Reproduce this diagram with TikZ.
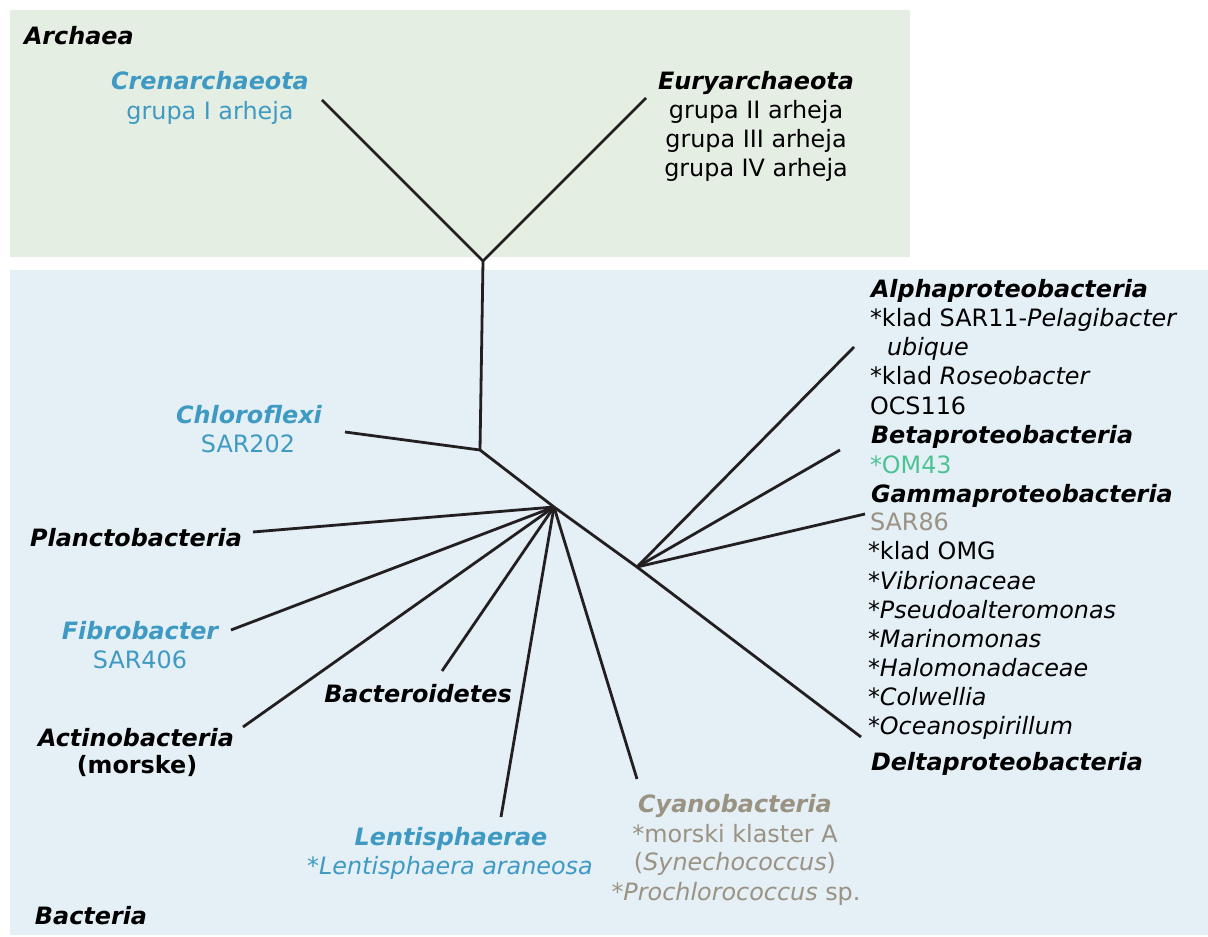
\documentclass[tikz,border=0pt]{standalone}
\usepackage{fontspec}
\setmainfont{DejaVu Sans}
\definecolor{archbg}{HTML}{E4EEE3}
\definecolor{bactbg}{HTML}{E4EFF6}
\definecolor{cblue}{HTML}{3F9AC3}
\definecolor{ctan}{HTML}{9A9282}
\definecolor{cgreen}{HTML}{4CC393}
\definecolor{cline}{HTML}{231F20}
\begin{document}
\begin{tikzpicture}[x=0.75pt,y=-0.75pt,
  every node/.style={inner sep=0pt,outer sep=0pt,font=\fontsize{17.9}{22}\selectfont},
  hdr/.style={font=\fontsize{17.9}{22}\selectfont\bfseries\itshape},
  lw/.style={anchor=base west,yshift=-1.6pt},
  ctr/.style={anchor=base,yshift=-1.6pt},
  branch/.style={draw=cline,line width=2.1pt,line join=round}]
\useasboundingbox (0,0) rectangle (1208,937);
\fill[white] (0,0) rectangle (1208,937);
% domain panels
\fill[archbg] (10,10) rectangle (910,257);
\fill[bactbg] (10,270) rectangle (1208,935);

% tree nodes
\coordinate (A) at (483,261);
\coordinate (cren) at (322,100);
\coordinate (eury) at (646,98);
\coordinate (B) at (480,450);
\coordinate (chl) at (345,432);
\coordinate (C) at (554,507);
\coordinate (plan) at (253,532);
\coordinate (fib) at (231,630);
\coordinate (act) at (243,727);
\coordinate (bcd) at (442,671);
\coordinate (lent) at (501,817);
\coordinate (cyan) at (637,779);
\coordinate (D) at (637,567);
\coordinate (delta) at (861,737);
\coordinate (alpha) at (854,347);
\coordinate (beta) at (840,450);
\coordinate (gamma) at (865,514);

\draw[branch] (cren) -- (A) -- (eury);
\draw[branch] (A) -- (B);
\draw[branch] (chl) -- (B) -- (C);
\draw[branch] (C) -- (plan);
\draw[branch] (C) -- (fib);
\draw[branch] (C) -- (act);
\draw[branch] (C) -- (bcd);
\draw[branch] (C) -- (lent);
\draw[branch] (C) -- (cyan);
\draw[branch] (C) -- (D) -- (delta);
\draw[branch] (D) -- (alpha);
\draw[branch] (D) -- (beta);
\draw[branch] (D) -- (gamma);

% Archaea labels
\node[hdr,lw] (tArch) at (24,42) {Archaea};
\node[hdr,ctr,text=cblue] (tCren) at (210,87) {Crenarchaeota};
\node[ctr,text=cblue] (tCren1) at (210,117) {grupa I arheja};
\node[hdr,ctr] (tEury) at (756,87) {Euryarchaeota};
\node[ctr] (tEury1) at (756,116) {grupa II arheja};
\node[ctr] (tEury2) at (756,145) {grupa III arheja};
\node[ctr] (tEury3) at (756,174) {grupa IV arheja};

% Bacteria labels, left and bottom
\node[hdr,ctr,text=cblue] (tChl) at (249,421) {Chloroflexi};
\node[ctr,text=cblue] (tChl1) at (248,450) {SAR202};
\node[hdr,ctr] (tPlan) at (136,544) {Planctobacteria};
\node[hdr,ctr,text=cblue] (tFib) at (140,637) {Fibrobacter};
\node[ctr,text=cblue] (tFib1) at (140,666) {SAR406};
\node[hdr,ctr] (tAct) at (136,744) {Actinobacteria};
\node[ctr,font=\fontsize{17.9}{22}\selectfont\bfseries] (tAct1) at (137,771) {(morske)};
\node[hdr,ctr] (tBcd) at (418,700) {Bacteroidetes};
\node[hdr,ctr,text=cblue] (tLent) at (451,843) {Lentisphaerae};
\node[ctr,text=cblue] (tLent1) at (450,872) {*\textit{Lentisphaera araneosa}};
\node[hdr,ctr,text=ctan] (tCyan) at (735,810) {Cyanobacteria};
\node[ctr,text=ctan] (tCyan1) at (735,840) {*morski klaster A};
\node[ctr,text=ctan] (tCyan2) at (735,868) {(\textit{Synechococcus})};
\node[ctr,text=ctan] (tCyan3) at (736,898) {*\textit{Prochlorococcus} sp.};
\node[hdr,lw] (tBact) at (35,922) {Bacteria};

% Proteobacteria column
\node[hdr,lw] (tAlpha) at (871,295) {Alphaproteobacteria};
\node[lw] (tA1) at (870,324) {*klad SAR11-\textit{Pelagibacter}};
\node[lw] (tA2) at (887,353) {\textit{ubique}};
\node[lw] (tA3) at (870,382) {*klad \textit{Roseobacter}};
\node[lw] (tA4) at (870,412) {OCS116};
\node[hdr,lw] (tBeta) at (871,441) {Betaproteobacteria};
\node[lw,text=cgreen] (tB1) at (870,471) {*OM43};
\node[hdr,lw] (tGamma) at (871,500) {Gammaproteobacteria};
\node[lw,text=ctan] (tG1) at (870,528) {SAR86};
\node[lw] (tG2) at (868,557) {*klad OMG};
\node[lw] (tG3) at (868,587) {*\textit{Vibrionaceae}};
\node[lw] (tG4) at (868,616) {*\textit{Pseudoalteromonas}};
\node[lw] (tG5) at (868,645) {*\textit{Marinomonas}};
\node[lw] (tG6) at (868,674) {*\textit{Halomonadaceae}};
\node[lw] (tG7) at (868,703) {*\textit{Colwellia}};
\node[lw] (tG8) at (868,732) {*\textit{Oceanospirillum}};
\node[hdr,lw] (tDelta) at (871,768) {Deltaproteobacteria};
\end{tikzpicture}
\end{document}
